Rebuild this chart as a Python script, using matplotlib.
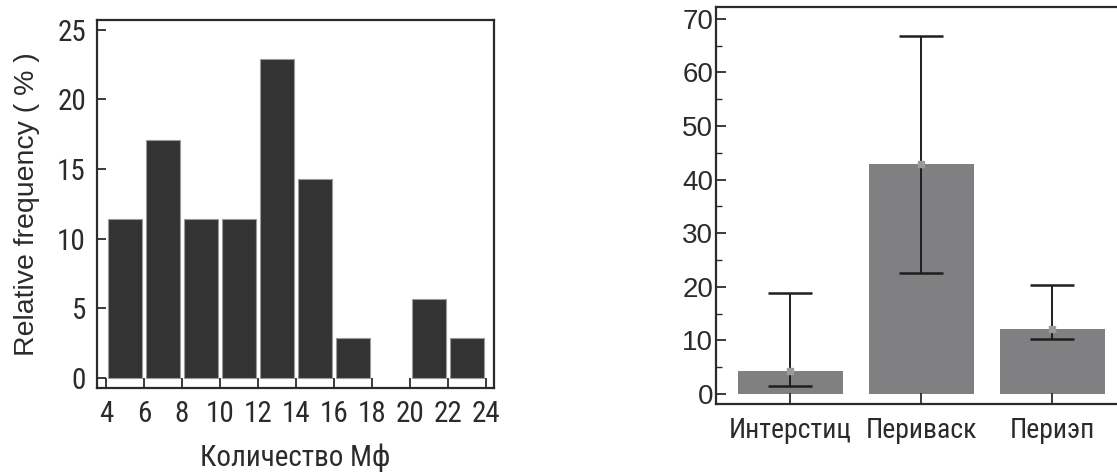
import matplotlib
matplotlib.use("Agg")
import matplotlib.pyplot as plt
from matplotlib.ticker import MultipleLocator

# left panel: histogram of macrophage counts
bin_left = [4, 6, 8, 10, 12, 14, 16, 18, 20, 22]
rel_freq = [11.4, 17.1, 11.4, 11.4, 22.9, 14.3, 2.9, 0.0, 5.7, 2.9]
x_ticks = [4, 6, 8, 10, 12, 14, 16, 18, 20, 22, 24]

# right panel: location groups
groups = ["Интерстиц", "Периваск", "Периэп"]
group_mean = [4.3, 43.0, 12.2]
group_low = [1.5, 22.5, 10.2]
group_high = [18.8, 66.7, 20.4]

NARROW = ["Roboto Condensed", "Liberation Sans Narrow", "Archivo Narrow",
          "Liberation Sans", "DejaVu Sans"]
WIDE = ["Liberation Sans", "DejaVu Sans"]
INK = "#2b2b2b"

plt.rcParams["font.family"] = NARROW
W, H = 1117, 475
fig = plt.figure(figsize=(W / 100, H / 100), dpi=100)


def frame(ax):
    for sp in ax.spines.values():
        sp.set_color(INK)
        sp.set_linewidth(1.6)
    ax.tick_params(direction="in", colors=INK, width=1.3, labelsize=21)


# ---- left ----
ax1 = fig.add_axes([97 / W, (H - 388) / H, (494 - 97) / W, (388 - 20) / H])
centers = [b + 1 for b in bin_left]
edge_w = [0.8 if v > 0 else 0 for v in rel_freq]
ax1.bar(centers, rel_freq, width=1.8, color="#333333",
        edgecolor="#9a9a9a", linewidth=edge_w)
ax1.set_xlim(3.53, 24.42)
ax1.set_ylim(-0.72, 25.7)
ax1.set_xticks(x_ticks)
ax1.set_yticks([0, 5, 10, 15, 20, 25])
frame(ax1)
ax1.tick_params(axis="x", length=7, pad=9)
ax1.tick_params(axis="y", length=6.5, pad=8)
ax1.set_ylabel("Relative frequency ( % )", family=WIDE,
               fontsize=20.5, color=INK, labelpad=12)
ax1.set_xlabel("Количество Мф", fontsize=21, color=INK, labelpad=11)

# ---- right ----
ax2 = fig.add_axes([716 / W, (H - 404) / H, (1118 - 716) / W, (404 - 7) / H])
pos = list(range(len(groups)))
ax2.bar(pos, group_mean, width=0.8, color="#808083", zorder=1)
yerr = [[m - lo for m, lo in zip(group_mean, group_low)],
        [hi - m for m, hi in zip(group_mean, group_high)]]
ax2.errorbar(pos, group_mean, yerr=yerr, fmt="none", ecolor="#1e1e1e",
             elinewidth=1.4, capsize=16, capthick=1.8, zorder=3)
ax2.plot(pos, group_mean, "s", color="#9b9b9b", markersize=4.5, zorder=4)
ax2.set_xlim(-0.565, 2.5)
ax2.set_ylim(-1.87, 72.2)
ax2.set_xticks(pos)
ax2.set_xticklabels(groups, fontsize=20)
ax2.yaxis.set_major_locator(MultipleLocator(10))
ax2.yaxis.set_minor_locator(MultipleLocator(5))
frame(ax2)
ax2.spines["right"].set_visible(False)
ax2.tick_params(axis="x", length=8, pad=9, labelsize=20)
ax2.tick_params(axis="y", which="major", length=7, pad=2, labelsize=20)
ax2.tick_params(axis="y", which="minor", direction="in", length=4, width=1.0, colors=INK)
for lab in ax2.get_yticklabels():
    lab.set_family(WIDE)

fig.savefig("out.png", dpi=100)
